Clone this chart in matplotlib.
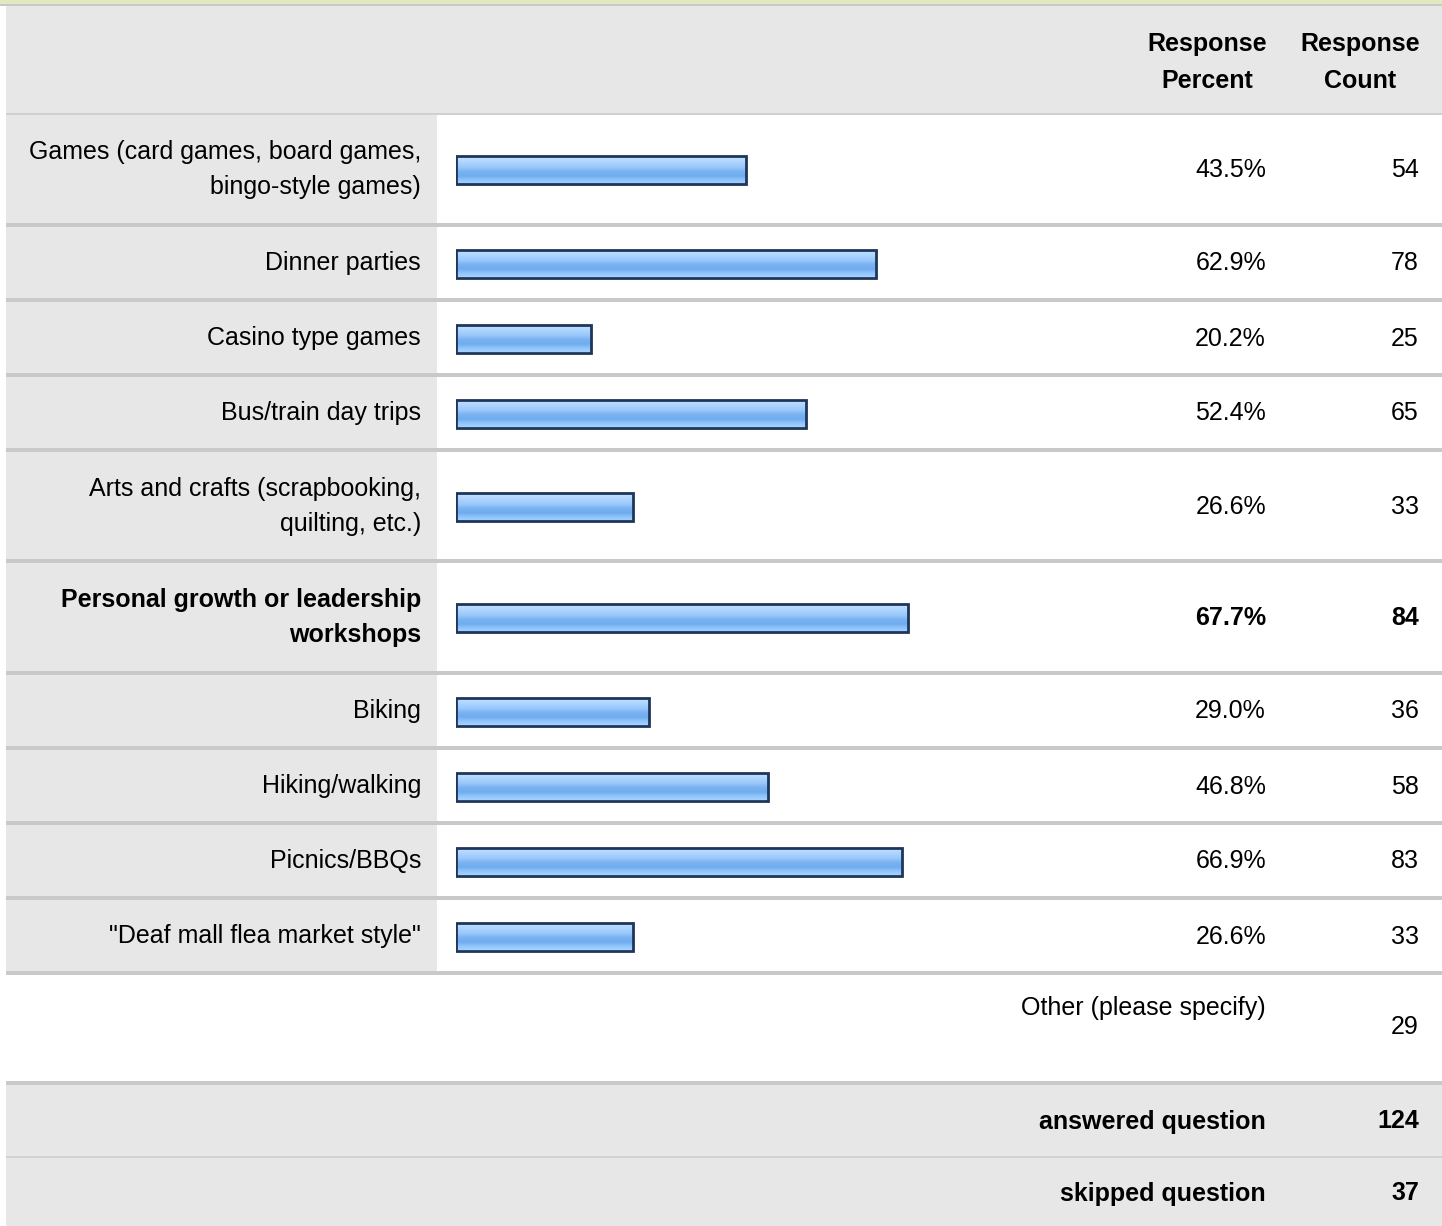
import numpy as np
import matplotlib.pyplot as plt
from matplotlib.patches import Rectangle
from matplotlib.colors import LinearSegmentedColormap

plt.rcParams['font.family'] = ['Liberation Sans', 'DejaVu Sans']

# survey data
categories = [
    "Games (card games, board games,\nbingo-style games)",
    "Dinner parties",
    "Casino type games",
    "Bus/train day trips",
    "Arts and crafts (scrapbooking,\nquilting, etc.)",
    "Personal growth or leadership\nworkshops",
    "Biking",
    "Hiking/walking",
    "Picnics/BBQs",
    "\"Deaf mall flea market style\"",
]
percents = [43.5, 62.9, 20.2, 52.4, 26.6, 67.7, 29.0, 46.8, 66.9, 26.6]
counts = [54, 78, 25, 65, 33, 84, 36, 58, 83, 33]
headers = ["Response\nPercent", "Response\nCount"]
other_label = "Other (please specify)"
other_count = 29
summary_labels = ["answered question", "skipped question"]
summary_counts = [124, 37]

W, H = 1442, 1226
FS = 18
GREY = '#e7e7e7'
SEP = '#c9c9c9'
X_LABEL, X_PCT, X_CNT = 421, 1266, 1419
X_CELL = 437

fig = plt.figure(figsize=(W / 100, H / 100), dpi=100)
ax = fig.add_axes([0, 0, 1, 1])
ax.set_xlim(0, W)
ax.set_ylim(H, 0)
ax.axis('off')


def rect(x, y, w, h, c):
    ax.add_patch(Rectangle((x, y), w, h, facecolor=c, edgecolor='none', zorder=0))


def multiline(x, yc, text, ha, weight='normal', gap=35):
    lines = text.split('\n')
    off = (len(lines) - 1) * gap / 2
    for i, ln in enumerate(lines):
        ax.text(x, yc - off + i * gap, ln, ha=ha, va='center', fontsize=FS,
                fontweight=weight, color='#000000')


# top strip and header
rect(0, 0, W, 4, '#e3e8c2')
rect(0, 4, W, 2, SEP)
rect(6, 6, W - 6, 107, GREY)
rect(6, 113, W - 6, 2, '#d0d0d0')
multiline(1207, 62.5, headers[0], 'center', 'bold', 37)
multiline(1360, 62.5, headers[1], 'center', 'bold', 37)

# rows
best = int(np.argmax(percents))
y = 115
centers = []
for i, lab in enumerate(categories):
    h = 111.5 if '\n' in lab else 75
    rect(6, y, X_CELL - 6, h - 4, GREY)
    rect(6, y + h - 4, W - 6, 4, SEP)
    yc = y + (h - 4) / 2
    centers.append(yc + 1.5)
    w = 'bold' if i == best else 'normal'
    multiline(X_LABEL, yc + 1, lab, 'right', w)
    ax.text(X_PCT, yc + 1.5, f"{percents[i]:.1f}%", ha='right', va='center',
            fontsize=FS, fontweight=w)
    ax.text(X_CNT, yc + 1.5, str(counts[i]), ha='right', va='center',
            fontsize=FS, fontweight=w)
    y += h

# other row
ax.text(X_PCT, y + 34, other_label, ha='right', va='center', fontsize=FS)
ax.text(X_CNT, y + 53, str(other_count), ha='right', va='center', fontsize=FS)
y += 106
rect(6, y, W - 6, 4, SEP)
y += 4

# summary rows
rect(6, y, W - 6, 71, GREY)
ax.text(X_PCT, y + 37, summary_labels[0], ha='right', va='center', fontsize=FS, fontweight='bold')
ax.text(X_CNT, y + 37, str(summary_counts[0]), ha='right', va='center', fontsize=FS, fontweight='bold')
y += 71
rect(6, y, W - 6, 2, '#d2d2d2')
y += 2
rect(6, y, W - 6, H - y, GREY)
ax.text(X_PCT, y + 36, summary_labels[1], ha='right', va='center', fontsize=FS, fontweight='bold')
ax.text(X_CNT, y + 36, str(summary_counts[1]), ha='right', va='center', fontsize=FS, fontweight='bold')

# bars on a percent scale
bx = fig.add_axes([456 / W, 0, (1123 - 456) / W, 1])
bx.set_xlim(0, 100)
bx.set_ylim(H, 0)
bx.axis('off')
bars = bx.barh(centers, percents, height=28, facecolor='none',
               edgecolor='#1d3659', linewidth=2, zorder=3)

grad = LinearSegmentedColormap.from_list('bar', [
    (0.0, '#c6e2ff'), (0.2, '#b0d6ff'), (0.4, '#98c8fb'),
    (0.55, '#7ab3f1'), (0.72, '#70acee'), (0.85, '#8cc2fb'), (1.0, '#a6d2ff')])
g = np.linspace(0, 1, 64).reshape(-1, 1)
for b in bars:
    x0, yb, bw, bh = b.get_x(), b.get_y(), b.get_width(), b.get_height()
    im = bx.imshow(g, cmap=grad, extent=[x0, x0 + bw, yb + bh, yb],
                   aspect='auto', zorder=2, interpolation='bilinear')
    im.set_clip_path(b)
bx.set_xlim(0, 100)
bx.set_ylim(H, 0)

fig.savefig('out.png', dpi=100)
